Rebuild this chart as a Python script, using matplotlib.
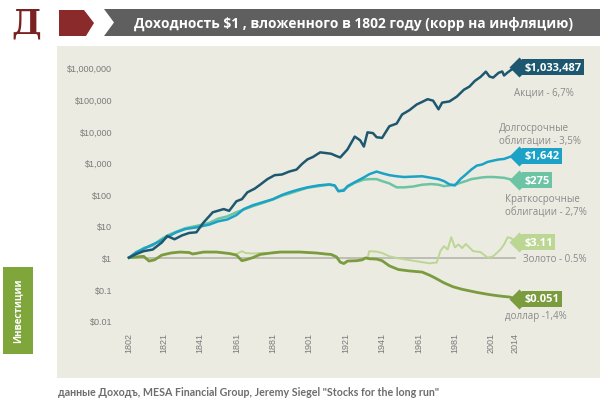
import matplotlib
matplotlib.use("Agg")
import matplotlib.pyplot as plt
import matplotlib.transforms as mtransforms
from matplotlib.patches import Polygon, Rectangle

# --- данные ---
stocks_years = [1802, 1806, 1810, 1815, 1820, 1823, 1827, 1831, 1835, 1839, 1843, 1848,
                1854, 1857, 1861, 1864, 1867, 1871, 1874, 1878, 1882, 1886, 1890, 1894,
                1897, 1900, 1903, 1907, 1910, 1913, 1916, 1918, 1922, 1926, 1929, 1931,
                1933, 1936, 1938, 1941, 1945, 1949, 1952, 1956, 1960, 1963, 1966, 1969,
                1972, 1974, 1978, 1982, 1986, 1989, 1992, 1995, 1998, 2000, 2002, 2005,
                2007, 2008, 2010, 2012, 2014]
stocks_vals = [1, 1.3, 1.6, 1.8, 3, 4.8, 3.8, 5, 6, 6.3, 13, 27,
               34, 30, 60, 70, 115, 150, 200, 300, 400, 420, 520, 600,
               900, 1260, 1500, 2100, 2000, 1900, 1600, 1450, 2600, 6600, 5000, 3200,
               9000, 8500, 6300, 6000, 14000, 17000, 33000, 45000, 68000, 82000, 100000, 90000,
               48000, 78000, 85000, 120000, 200000, 250000, 380000, 500000, 740000, 520000, 480000, 680000,
               750000, 560000, 700000, 850000, 1033487]

bonds_years = [1802, 1806, 1810, 1815, 1819, 1823, 1828, 1833, 1839, 1846, 1851, 1856,
               1861, 1865, 1870, 1875, 1881, 1886, 1890, 1895, 1900, 1906, 1912, 1915,
               1917, 1920, 1922, 1926, 1931, 1934, 1938, 1941, 1945, 1949, 1953, 1958,
               1963, 1968, 1972, 1975, 1978, 1981, 1984, 1987, 1990, 1993, 1996, 1999,
               2002, 2005, 2008, 2011, 2014]
bonds_vals = [1, 1.5, 1.9, 2.6, 3.3, 4.5, 6.3, 8, 9, 11, 14, 16,
              22, 34, 45, 55, 70, 95, 115, 140, 165, 190, 205, 190,
              125, 130, 180, 240, 340, 430, 520, 460, 400, 370, 350, 360,
              370, 330, 300, 260, 205, 190, 300, 420, 600, 800, 870, 1050,
              1150, 1250, 1300, 1500, 1642]

bills_years = bonds_years
bills_vals = [1, 1.4, 2, 2.4, 3.6, 5, 6.6, 8.5, 10, 12.5, 17, 20,
              27, 33, 42, 52, 68, 90, 105, 130, 160, 180, 200, 185,
              125, 140, 170, 230, 290, 300, 300, 260, 220, 165, 165, 175,
              200, 210, 200, 180, 190, 200, 230, 260, 300, 320, 340, 350,
              350, 340, 330, 300, 275]

dollar_years = [1802, 1806, 1810, 1813, 1816, 1820, 1825, 1830, 1835, 1837, 1843, 1850,
                1857, 1861, 1864, 1866, 1870, 1874, 1880, 1885, 1890, 1896, 1900, 1905,
                1910, 1913, 1916, 1918, 1920, 1922, 1927, 1930, 1932, 1934, 1938, 1941,
                1945, 1950, 1956, 1963, 1967, 1970, 1975, 1980, 1985, 1993, 2000, 2005,
                2011, 2014]
dollar_vals = [1, 1.05, 1.1, 0.78, 0.85, 1.2, 1.4, 1.5, 1.45, 1.3, 1.5, 1.5,
               1.35, 1.2, 0.8, 0.85, 1.0, 1.26, 1.4, 1.5, 1.5, 1.5, 1.45, 1.4,
               1.3, 1.26, 1.05, 0.72, 0.65, 0.78, 0.8, 0.85, 0.98, 0.92, 0.9, 0.8,
               0.55, 0.42, 0.38, 0.35, 0.28, 0.23, 0.16, 0.12, 0.1, 0.08, 0.068, 0.062,
               0.057, 0.051]

gold_years = [1802, 1806, 1810, 1813, 1816, 1820, 1825, 1830, 1835, 1837, 1843, 1850,
              1857, 1861, 1864, 1866, 1870, 1874, 1880, 1885, 1890, 1896, 1900, 1905,
              1910, 1913, 1916, 1918, 1920, 1922, 1927, 1930, 1932, 1933, 1934, 1938,
              1941, 1945, 1950, 1958, 1967, 1971, 1973, 1975, 1977, 1979, 1981, 1983,
              1985, 1987, 1991, 1995, 1999, 2002, 2006, 2008, 2010, 2012, 2014]
gold_vals = [1, 1.05, 1.1, 0.78, 0.85, 1.2, 1.4, 1.5, 1.45, 1.3, 1.5, 1.5,
             1.35, 1.3, 1.6, 1.4, 1.35, 1.4, 1.4, 1.5, 1.5, 1.5, 1.45, 1.4,
             1.3, 1.26, 1.05, 0.72, 0.65, 0.78, 0.8, 0.85, 0.98, 0.98, 1.6, 1.55,
             1.4, 1.1, 0.95, 0.8, 0.66, 0.7, 1.6, 2.3, 1.8, 4.4, 2.1, 2.6,
             2.0, 2.7, 1.6, 1.5, 1.0, 1.1, 1.8, 2.6, 4.4, 4.1, 3.11]

tick_years = [1802, 1821, 1841, 1861, 1881, 1901, 1921, 1941, 1961, 1981, 2001, 2014]
y_ticks = [0.01, 0.1, 1, 10, 100, 1000, 10000, 100000, 1000000]
y_labels = ["$0.01", "$0.1", "$1", "$10", "$100", "$1,000", "$10,000", "$100,000", "$1,000,000"]

series = [
    # годы, значения, цвет, ширина, метка, подпись
    (gold_years, gold_vals, "#bcd694", 1.4, "$3.11", "Золото - 0.5%"),
    (dollar_years, dollar_vals, "#7b9c3e", 2.0, "$0.051", "доллар -1,4%"),
    (bills_years, bills_vals, "#6cc4a4", 1.8, "$275", "Краткосрочные\nоблигации - 2,7%"),
    (bonds_years, bonds_vals, "#1ba2c6", 1.8, "$1,642", "Долгосрочные\nоблигации - 3,5%"),
    (stocks_years, stocks_vals, "#1e5870", 1.8, "$1,033,487", "Акции - 6,7%"),
]
# положение подписей (пиксели)
desc_pos = {"$1,033,487": (514, 93), "$1,642": (499, 135), "$275": (505, 206),
            "$3.11": (523, 260), "$0.051": (505, 317)}

W, H = 609, 414
fig = plt.figure(figsize=(W / 100, H / 100), dpi=100)
fig.patch.set_facecolor("white")
pix = mtransforms.Affine2D().scale(1 / W, -1 / H).translate(0, 1) + fig.transFigure

# фон графика
fig.patches.append(Rectangle((57, 47), 543, 332, transform=pix, fc="#ebebe1", ec="none", zorder=-5))

# шапка
fig.text(26, 24, "Д", transform=pix, fontsize=24, fontweight="bold", family="DejaVu Serif",
         color="#7a2222", ha="center", va="center")
fig.patches.append(Polygon([(59, 11), (84, 11), (94, 24), (86, 37), (59, 37)], closed=True,
                           transform=pix, fc="#8b2a2a", ec="none"))
fig.patches.append(Polygon([(104, 10), (600, 10), (600, 37), (104, 37), (114, 23.5)], closed=True,
                           transform=pix, fc="#5f5f5f", ec="none"))
fig.text(353, 23.5, "Доходность $1 , вложенного в 1802 году (корр на инфляцию)", transform=pix,
         fontsize=9.9, fontweight="bold", family="Open Sans", color="white", ha="center", va="center")

# зелёная плашка слева
fig.patches.append(Rectangle((3, 268), 30, 87, transform=pix, fc="#7ea63a", ec="none"))
fig.text(18, 311, "Инвестиции", transform=pix, rotation=90, fontsize=7, fontweight="bold",
         family="Open Sans", color="white", ha="center", va="center")

# подпись источника
fig.text(58, 393, 'данные Доходъ, MESA Financial Group, Jeremy Siegel "Stocks for the long run"',
         transform=pix, fontsize=7.7, fontweight="bold", family="Lato", color="#6d6d6d",
         ha="left", va="center")

ax = fig.add_axes([116.3 / W, 1 - 331.5 / H, 418.7 / W, 272.5 / H])
ax.set_facecolor("none")
ax.set_yscale("log")
ax.set_xlim(1795, 2025)
ax.set_ylim(10 ** -2.3, 10 ** 6.3)
for s in ax.spines.values():
    s.set_visible(False)

ax.plot([1802, 2014], [1, 1], color="#b5b5ae", lw=1.2, zorder=1)

for yrs, vals, col, lw, tag, desc in series:
    ax.plot(yrs, vals, color=col, lw=lw, zorder=2)
    ax.plot(yrs[-1] + 2, vals[-1], marker="D", ms=10, color=col, mec="none", zorder=3, clip_on=False)
    ax.annotate(tag, (yrs[-1] + 2, vals[-1]), xytext=(4, 0), textcoords="offset points",
                ha="left", va="center", fontsize=8, fontweight="bold", family="Open Sans",
                color="white", annotation_clip=False, zorder=4,
                bbox=dict(boxstyle="square,pad=0.22", fc=col, ec="none"))
    dx, dy = desc_pos[tag]
    fig.text(dx, dy, desc, transform=pix, fontsize=7, family="Open Sans", color="#8a8a8a",
             ha="left", va="center", linespacing=1.3)

ax.set_yticks(y_ticks)
ax.set_yticklabels(y_labels)
ax.minorticks_off()
ax.set_xticks(tick_years)
ax.set_xticklabels([str(y) for y in tick_years], rotation=90)
ax.tick_params(axis="y", length=0, labelsize=6.5, labelcolor="#7a7a7a", pad=3)
ax.tick_params(axis="x", length=0, labelsize=6.5, labelcolor="#7a7a7a", pad=1)
for lbl in ax.get_xticklabels() + ax.get_yticklabels():
    lbl.set_family("Liberation Sans")

fig.savefig("out.png", dpi=100)
